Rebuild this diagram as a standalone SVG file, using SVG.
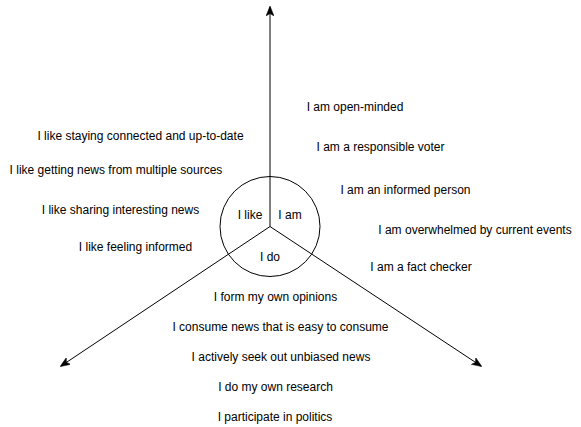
<svg xmlns="http://www.w3.org/2000/svg" width="581" height="427" viewBox="0 0 581 427">
<style>
text{font-family:"Liberation Sans",Arial,sans-serif;font-size:12px;fill:#000;text-anchor:middle}
.ln{stroke:#000;stroke-width:1;fill:none}
</style>
<defs>
<marker id="ah" viewBox="0 0 10 8" refX="9" refY="4" markerWidth="10" markerHeight="8" markerUnits="userSpaceOnUse" orient="auto">
<path d="M0,0 L10,4 L0,8 L2.5,4 Z" fill="#000" stroke="#000" stroke-width="0.5"/>
</marker>
</defs>
<rect width="581" height="427" fill="#fff"/>
<g id="connectors">
<line class="ln" x1="270" y1="226.5" x2="270" y2="7" marker-end="url(#ah)"/>
<line class="ln" x1="270" y1="226.5" x2="61" y2="366" marker-end="url(#ah)"/>
<line class="ln" x1="270" y1="226.5" x2="481" y2="366" marker-end="url(#ah)"/>
</g>
<g id="circle">
<circle class="ln" cx="270" cy="226.5" r="50"/>
<text x="250" y="219">I like</text>
<text x="290" y="219">I am</text>
<text x="270" y="261">I do</text>
</g>
<g id="like-items">
<text x="140.5" y="140">I like staying connected and up-to-date</text>
<text x="116" y="174">I like getting news from multiple sources</text>
<text x="120.5" y="214">I like sharing interesting news</text>
<text x="135.5" y="250.5">I like feeling informed</text>
</g>
<g id="am-items">
<text x="355" y="111">I am open-minded</text>
<text x="380.5" y="151">I am a responsible voter</text>
<text x="405.5" y="194">I am an informed person</text>
<text x="475" y="234">I am overwhelmed by current events</text>
<text x="421" y="271">I am a fact checker</text>
</g>
<g id="do-items">
<text x="275.5" y="301">I form my own opinions</text>
<text x="280.5" y="331">I consume news that is easy to consume</text>
<text x="281" y="361">I actively seek out unbiased news</text>
<text x="275.5" y="391">I do my own research</text>
<text x="275" y="421">I participate in politics</text>
</g>
</svg>
